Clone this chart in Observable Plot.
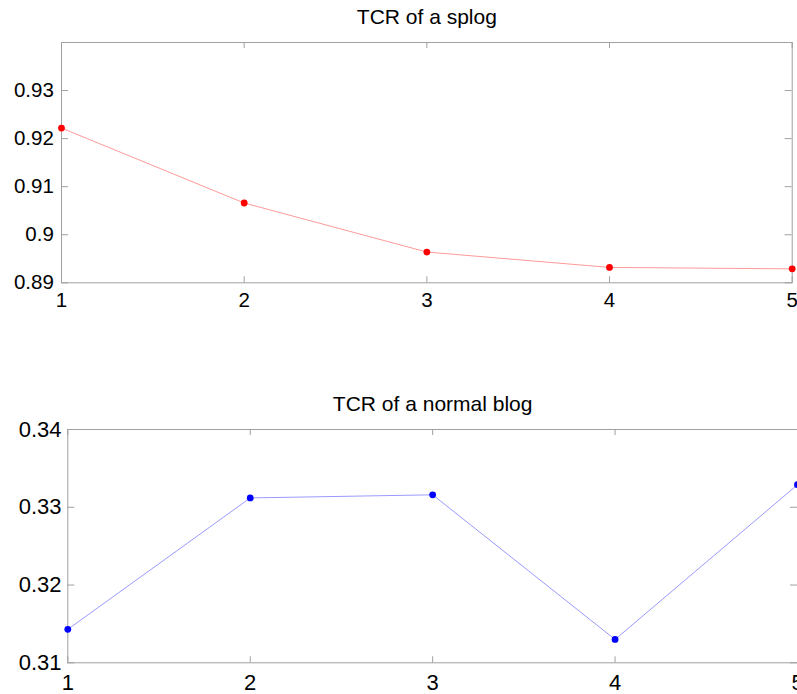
<!DOCTYPE html>
<html>
<head>
<meta charset="utf-8">
<script src="https://cdn.jsdelivr.net/npm/d3@7"></script>
<script src="https://cdn.jsdelivr.net/npm/@observablehq/plot@0.6"></script>
<style>
  html, body { margin: 0; padding: 0; background: #fff; overflow: hidden; width: 797px; height: 694px; }
  #wrap { position: relative; width: 797px; height: 694px; overflow: hidden; }
  #top, #bottom { position: absolute; left: 0; width: 820px; }
  #top { top: 0; }
  #bottom { top: 330px; }
  svg { max-width: none !important; }
</style>
</head>
<body>
<div id="wrap"><div id="top"></div><div id="bottom"></div></div>
<script>
const runs = [1, 2, 3, 4, 5];
const splogTCR = [0.9222, 0.9066, 0.8964, 0.8932, 0.8929];
const normalTCR = [0.3143, 0.3312, 0.3316, 0.3130, 0.3329];

const xTicks = [1, 2, 3, 4, 5];
const xTickLabels = ["1", "2", "3", "4", "5"];
const splogYTicks = [0.89, 0.90, 0.91, 0.92, 0.93];
const splogYTickLabels = ["0.89", "0.9", "0.91", "0.92", "0.93"];
const normalYTicks = [0.31, 0.32, 0.33, 0.34];
const normalYTickLabels = ["0.31", "0.32", "0.33", "0.34"];
const splogTitle = "TCR of a splog";
const normalTitle = "TCR of a normal blog";

const FONT = "'Liberation Sans', Arial, Helvetica, sans-serif";
const AXIS = "#a0a0a0";

function panel(cfg) {
  const data = runs.map((r, i) => ({x: r, y: cfg.values[i]}));
  const ph = cfg.height - cfg.marginTop - cfg.marginBottom;
  const pw = cfg.width - cfg.marginLeft - cfg.marginRight;
  const xl = 6, yl = 7;
  return Plot.plot({
    width: cfg.width,
    height: cfg.height,
    marginLeft: cfg.marginLeft,
    marginRight: cfg.marginRight,
    marginTop: cfg.marginTop,
    marginBottom: cfg.marginBottom,
    style: {fontFamily: FONT, background: "#fff", overflow: "visible", color: "#000", maxWidth: "none"},
    x: {domain: [1, 5], axis: null},
    y: {domain: cfg.yDomain, axis: null},
    marks: [
      Plot.frame({stroke: AXIS, strokeWidth: 1}),
      // inward ticks: bottom, top, left, right
      Plot.tickX(xTicks, {x: d => d, insetTop: ph - xl, stroke: AXIS}),
      Plot.tickX(xTicks, {x: d => d, insetBottom: ph - xl, stroke: AXIS}),
      Plot.tickY(cfg.yTicks, {y: d => d, insetRight: pw - yl, stroke: AXIS}),
      Plot.tickY(cfg.yTicks, {y: d => d, insetLeft: pw - yl, stroke: AXIS}),
      // tick labels
      Plot.text(xTicks, {x: d => d, text: (d, i) => xTickLabels[i], frameAnchor: "bottom", dy: cfg.xLabelDy, lineAnchor: "bottom", textAnchor: "middle", fontSize: cfg.fontSize, fill: "#000"}),
      Plot.text(cfg.yTicks, {y: d => d, text: (d, i) => cfg.yLabels[i], frameAnchor: "left", dx: -cfg.yLabelGap, textAnchor: "end", lineAnchor: "middle", fontSize: cfg.fontSize, fill: "#000"}),
      // title
      Plot.text([cfg.title], {text: d => d, frameAnchor: "top", dy: cfg.titleDy, lineAnchor: "bottom", fontSize: 21, fill: "#000"}),
      // data
      Plot.line(data, {x: "x", y: "y", stroke: cfg.lineColor, strokeWidth: 1}),
      Plot.dot(data, {x: "x", y: "y", r: 3.4, fill: cfg.dotColor, stroke: "none"})
    ]
  });
}

document.getElementById("top").appendChild(panel({
  width: 797, height: 330,
  marginLeft: 61, marginRight: 5.3, marginTop: 42, marginBottom: 47.7,
  yDomain: [0.89, 0.94], yTicks: splogYTicks, yLabels: splogYTickLabels,
  values: splogTCR, title: splogTitle,
  lineColor: "#ff9a9a", dotColor: "#ff0000",
  fontSize: 20.5, xLabelDy: 24.4, yLabelGap: 7.7, titleDy: -19
}));

document.getElementById("bottom").appendChild(panel({
  width: 803, height: 364,
  marginLeft: 67.3, marginRight: 6, marginTop: 99, marginBottom: 31.7,
  yDomain: [0.31, 0.34], yTicks: normalYTicks, yLabels: normalYTickLabels,
  values: normalTCR, title: normalTitle,
  lineColor: "#9a9aff", dotColor: "#0000ff",
  fontSize: 22, xLabelDy: 26.7, yLabelGap: 6.3, titleDy: -18.3
}));
</script>
</body>
</html>
